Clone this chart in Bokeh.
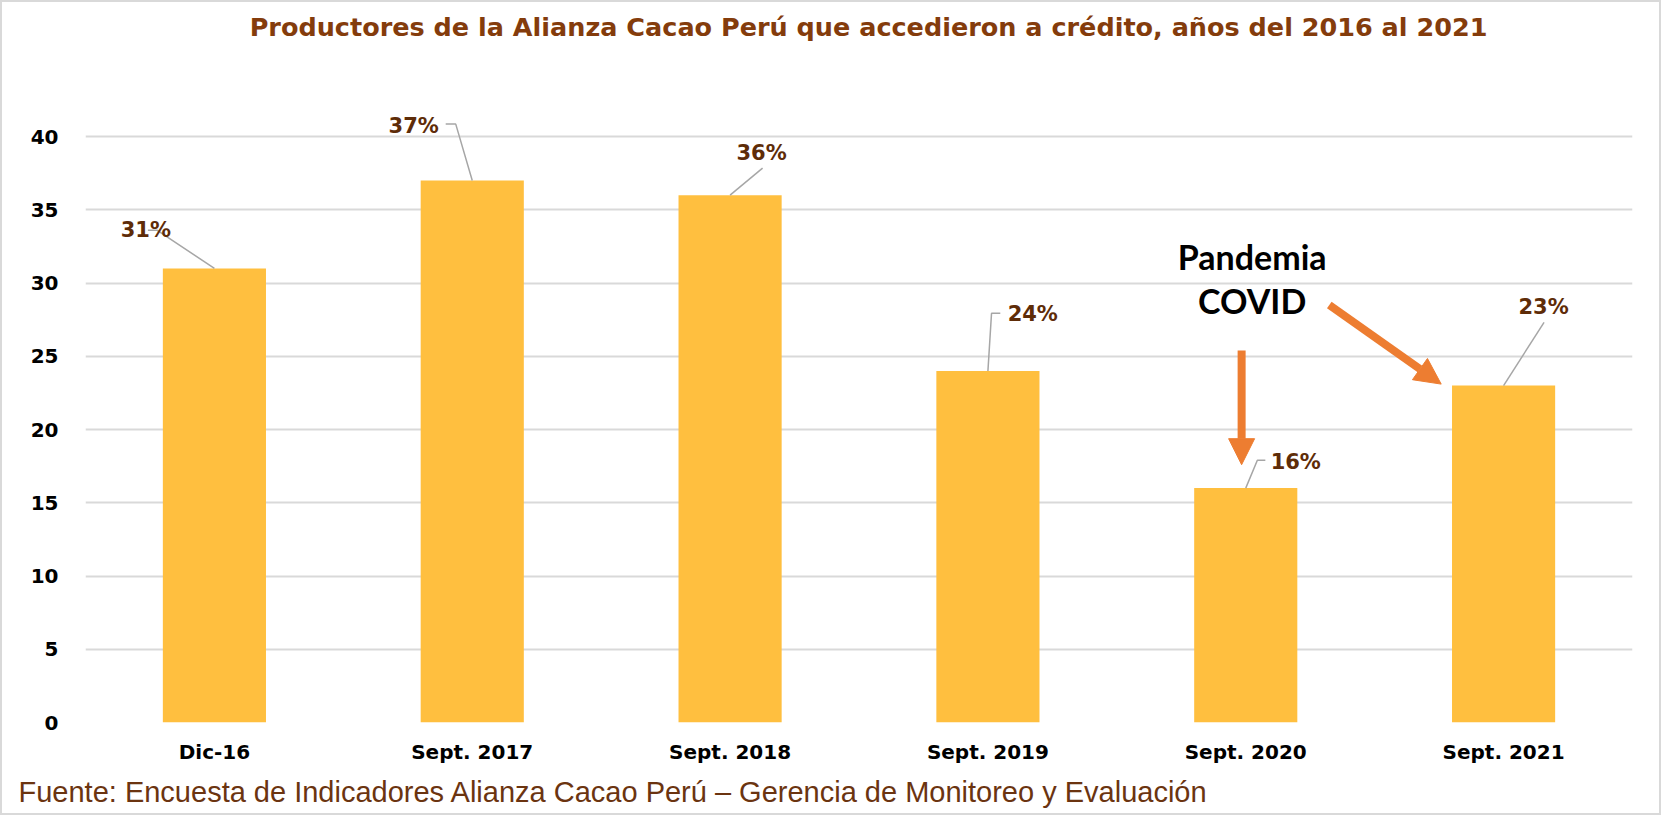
from bokeh.plotting import figure
from bokeh.models import (FixedTicker, Label, Arrow, NormalHead, ColumnDataSource, Range1d, Title)
from bokeh.core.properties import value
from bokeh.embed import file_html
from bokeh.resources import INLINE

# ---- data ----
categories = ["Dic-16", "Sept. 2017", "Sept. 2018", "Sept. 2019", "Sept. 2020", "Sept. 2021"]
values = [31, 37, 36, 24, 16, 23]
value_labels = ["31%", "37%", "36%", "24%", "16%", "23%"]
y_ticks = [0, 5, 10, 15, 20, 25, 30, 35, 40]
title_text = "Productores de la Alianza Cacao Perú que accedieron a crédito, años del 2016 al 2021"
source_text = "Fuente: Encuesta de Indicadores Alianza Cacao Perú – Gerencia de Monitoreo y Evaluación"
annotation_lines = ["Pandemia", "COVID"]

# ---- label placement (offsets from each bar top, data units) ----
label_offsets = [(-0.266, 2.6), (-0.227, 3.7), (0.122, 2.9), (0.174, 3.9), (0.194, 1.76), (0.155, 5.35)]
leader_offsets = [
    [(-0.258, 2.61), (-0.223, 2.61), (0.0, 0.0)],
    [(-0.103, 3.85), (-0.064, 3.85), (0.0, 0.0)],
    [(0.126, 1.84), (0.0, 0.0)],
    [(0.048, 3.94), (0.014, 3.94), (0.0, 0.0)],
    [(0.076, 1.9), (0.045, 1.9), (0.0, 0.0)],
    [(0.157, 4.32), (0.0, 0.0)],
]

BAR = "#FFBF3F"
BROWN_T = "#843C0C"
BROWN_L = "#5E2C08"
ORANGE = "#ED7D31"

xs = list(range(len(categories)))

p = figure(width=1661, height=815, output_backend="svg", toolbar_location=None,
           x_range=Range1d(-0.5, len(categories) - 0.5), y_range=Range1d(0, 49.15),
           min_border_left=83, min_border_right=31, min_border_top=0, min_border_bottom=95)
p.outline_line_color = None
p.background_fill_color = "white"
p.border_fill_color = "white"
p.styles = {"border": "2px solid #D9D9D9", "box-sizing": "border-box"}

src = ColumnDataSource(dict(x=xs, top=values, cat=categories))
p.vbar(x="x", top="top", width=0.4, source=src, fill_color=BAR, line_color=None)

# leader lines
lxs, lys = [], []
for i, (v, path) in enumerate(zip(values, leader_offsets)):
    lxs.append([i + dx for dx, dy in path])
    lys.append([v + dy for dx, dy in path])
p.multi_line(lxs, lys, line_color="#A6A6A6", line_width=1.5)

# data labels
lab_src = ColumnDataSource(dict(
    x=[i + o[0] for i, o in enumerate(label_offsets)],
    y=[v + o[1] for v, o in zip(values, label_offsets)],
    t=value_labels))
p.text(x="x", y="y", text="t", source=lab_src, text_align="center", text_baseline="middle",
       text_font=value("DejaVu Sans"), text_font_style="bold", text_font_size="21px",
       text_color=BROWN_L)

# axes
p.xaxis.ticker = FixedTicker(ticks=xs)
p.xaxis.major_label_overrides = {i: c for i, c in enumerate(categories)}
p.yaxis.ticker = FixedTicker(ticks=y_ticks)
for ax in (p.xaxis, p.yaxis):
    ax.axis_line_color = None
    ax.major_tick_line_color = None
    ax.minor_tick_line_color = None
    ax.major_label_text_font = "DejaVu Sans"
    ax.major_label_text_font_style = "bold"
    ax.major_label_text_font_size = "20px"
    ax.major_label_text_color = "black"
p.xaxis.major_label_standoff = 11
p.yaxis.major_label_standoff = 21
p.xgrid.grid_line_color = None
p.ygrid.ticker = FixedTicker(ticks=y_ticks)
p.ygrid.grid_line_color = "#D9D9D9"
p.ygrid.grid_line_width = 2

# title (inside the tall frame) and source note (below panel)
p.add_layout(Label(x=2.537, y=47.5, text=title_text, text_align="center", text_baseline="alphabetic",
                   text_font="DejaVu Sans", text_font_style="bold", text_font_size="25.5px",
                   text_color=BROWN_T))
p.add_layout(Title(text=source_text, align="left", offset=-67, standoff=14,
                   text_font="Liberation Sans", text_font_style="normal", text_font_size="29px",
                   text_color="#6B3410"), "below")

# COVID annotation
p.add_layout(Label(x=4.025, y=31.83, text=annotation_lines[0], text_align="center", text_baseline="middle",
                   text_font="Lato", text_font_style="bold", text_font_size="34px", text_color="black"))
p.add_layout(Label(x=4.025, y=28.83, text=annotation_lines[1], text_align="center", text_baseline="middle",
                   text_font="Lato", text_font_style="bold", text_font_size="34px", text_color="black"))
p.add_layout(Arrow(end=NormalHead(size=26, fill_color=ORANGE, line_color=ORANGE),
                   x_start=3.984, y_start=25.4, x_end=3.984, y_end=17.6,
                   line_color=ORANGE, line_width=8))
p.add_layout(Arrow(end=NormalHead(size=26, fill_color=ORANGE, line_color=ORANGE),
                   x_start=4.324, y_start=28.5, x_end=4.758, y_end=23.1,
                   line_color=ORANGE, line_width=8))

open("out.html", "w").write(file_html(p, INLINE))
